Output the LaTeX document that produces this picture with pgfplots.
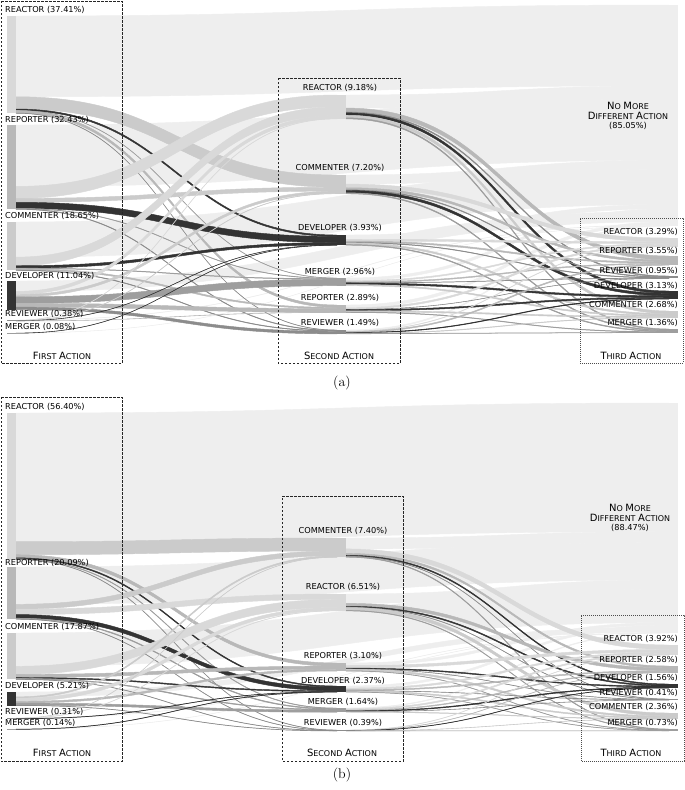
\documentclass[border=0pt]{standalone}
\usepackage{pgfplots}
\pgfplotsset{compat=1.18}
\usepackage{fontspec}
\newfontfamily\dv{DejaVu Sans}

\definecolor{cRea}{HTML}{D9D9D9}
\definecolor{cRep}{HTML}{B8B8B8}
\definecolor{cCom}{HTML}{CBCBCB}
\definecolor{cDev}{HTML}{333333}
\definecolor{cRev}{HTML}{8C8C8C}
\definecolor{cMer}{HTML}{9E9E9E}
\definecolor{cNone}{HTML}{EEEEEE}

% px per percent
\newcommand\sk{2.6}

% node: name, left x of bar, top y
\newcommand\defnode[3]{%
  \expandafter\xdef\csname nx@#1\endcsname{#2}%
  \expandafter\xdef\csname ny@#1\endcsname{#3}%
  \expandafter\xdef\csname no@#1\endcsname{0}%
  \expandafter\xdef\csname ni@#1\endcsname{0}%
}

% flow: source, target, value (%), colour  -> filled ribbon
\newcommand\flow[4]{%
  \edef\sfxa{\csname nx@#1\endcsname}\edef\sfya{\csname ny@#1\endcsname}\edef\sfoa{\csname no@#1\endcsname}%
  \edef\sfxb{\csname nx@#2\endcsname}\edef\sfyb{\csname ny@#2\endcsname}\edef\sfib{\csname ni@#2\endcsname}%
  \pgfmathsetmacro\sfw{#3*\sk}%
  \pgfmathsetmacro\sfx{\sfxa+9}%
  \pgfmathsetmacro\sfta{\sfya+\sfoa}%
  \pgfmathsetmacro\sfba{\sfya+\sfoa+\sfw}%
  \pgfmathsetmacro\sftb{\sfyb+\sfib}%
  \pgfmathsetmacro\sfbb{\sfyb+\sfib+\sfw}%
  \expandafter\xdef\csname no@#1\endcsname{\sfba-\sfya}%
  \pgfmathsetmacro\sktmp{\sfoa+\sfw}\expandafter\xdef\csname no@#1\endcsname{\sktmp}%
  \pgfmathsetmacro\sktmp{\sfib+\sfw}\expandafter\xdef\csname ni@#2\endcsname{\sktmp}%
  \pgfmathsetmacro\sfmx{(\sfx+\sfxb)/2}%
  \edef\doflow{\noexpand\addplot[fill=#4, draw=#4, line width=0.45pt]
    coordinates {(\sfx,\sfta)} .. controls (axis cs:\sfmx,\sfta) and (axis cs:\sfmx,\sftb) .. (axis cs:\sfxb,\sftb)
    -- (axis cs:\sfxb,\sfbb) .. controls (axis cs:\sfmx,\sfbb) and (axis cs:\sfmx,\sfba) .. (axis cs:\sfx,\sfba) -- cycle;}%
  \doflow}

% bar: name, value (%), colour
\newcommand\nbar[3]{%
  \edef\sbx{\csname nx@#1\endcsname}\edef\sby{\csname ny@#1\endcsname}%
  \pgfmathsetmacro\sbc{\sbx+4.5}%
  \pgfmathsetmacro\sbe{\sby+max(#2*\sk,0.8)}%
  \edef\dobar{\noexpand\addplot[draw=#3, line width=9pt] coordinates {(\sbc,\sby) (\sbc,\sbe)};}%
  \dobar}

\newcommand\lab{\dv\fontsize{8.2}{9.8}\selectfont}
\newcommand\scap[2]{{\fontsize{10}{12}\selectfont #1}{\fontsize{8}{10}\selectfont #2}}

\begin{document}
\begin{tikzpicture}
% panel (a) nodes
\defnode{aR1}{7}{16}\defnode{aP1}{7}{125}\defnode{aC1}{7}{222}
\defnode{aD1}{7}{281}\defnode{aV1}{7}{320}\defnode{aM1}{7}{333}
\defnode{aR2}{337}{95}\defnode{aC2}{337}{175}\defnode{aD2}{337}{235}
\defnode{aM2}{337}{278}\defnode{aP2}{337}{305}\defnode{aV2}{337}{330}
\defnode{aN3}{669}{5}\defnode{aR3}{669}{238}\defnode{aP3}{669}{256}
\defnode{aV3}{669}{276}\defnode{aD3}{669}{291}\defnode{aC3}{669}{311}\defnode{aM3}{669}{329}
% panel (b) nodes
\defnode{bR1}{7}{413}\defnode{bP1}{7}{567}\defnode{bC1}{7}{633}
\defnode{bD1}{7}{692}\defnode{bV1}{7}{718}\defnode{bM1}{7}{729}
\defnode{bC2}{337}{538}\defnode{bR2}{337}{594}\defnode{bP2}{337}{663}
\defnode{bD2}{337}{686}\defnode{bM2}{337}{708}\defnode{bV2}{337}{730}
\defnode{bN3}{669}{403}\defnode{bR3}{669}{645}\defnode{bP3}{669}{666}
\defnode{bD3}{669}{684}\defnode{bV3}{669}{699}\defnode{bC3}{669}{713}\defnode{bM3}{669}{729}

\begin{axis}[
    scale only axis,
    width=685pt, height=790pt,
    xmin=0, xmax=685, ymin=0, ymax=790,
    y dir=reverse,
    hide axis,
    clip=false,
]

% ---------- (a) ----------
% no more different action
\flow{aR1}{aN3}{31.07}{cNone}
\flow{aR2}{aN3}{5.03}{cNone}
\flow{aP1}{aN3}{23.62}{cNone}
\flow{aC2}{aN3}{3.5}{cNone}
\flow{aC1}{aN3}{13.52}{cNone}
\flow{aD2}{aN3}{1.63}{cNone}
\flow{aM2}{aN3}{1.01}{cNone}
\flow{aD1}{aN3}{4.0}{cNone}
\flow{aP2}{aN3}{1.09}{cNone}
\flow{aV1}{aN3}{0.10}{cNone}
\flow{aV2}{aN3}{0.43}{cNone}
\flow{aM1}{aN3}{0.03}{cNone}
% first -> second
\flow{aR1}{aC2}{4.7}{cCom}
\flow{aR1}{aD2}{0.55}{cDev}
\flow{aR1}{aM2}{0.1}{cMer}
\flow{aR1}{aP2}{0.9}{cRep}
\flow{aR1}{aV2}{0.09}{cRev}
\flow{aP1}{aR2}{4.6}{cRea}
\flow{aP1}{aC2}{1.5}{cCom}
\flow{aP1}{aD2}{2.35}{cDev}
\flow{aP1}{aM2}{0.16}{cMer}
\flow{aP1}{aV2}{0.2}{cRev}
\flow{aC1}{aR2}{3.3}{cRea}
\flow{aC1}{aD2}{0.93}{cDev}
\flow{aC1}{aM2}{0.2}{cMer}
\flow{aC1}{aP2}{0.5}{cRep}
\flow{aC1}{aV2}{0.2}{cRev}
\flow{aD1}{aR2}{1.2}{cRea}
\flow{aD1}{aC2}{0.9}{cCom}
\flow{aD1}{aM2}{2.5}{cMer}
\flow{aD1}{aP2}{1.44}{cRep}
\flow{aD1}{aV2}{1.0}{cRev}
\flow{aV1}{aR2}{0.08}{cRea}
\flow{aV1}{aC2}{0.1}{cCom}
\flow{aV1}{aD2}{0.05}{cDev}
\flow{aV1}{aP2}{0.05}{cRep}
\flow{aM1}{aD2}{0.05}{cDev}
% second -> third
\flow{aR2}{aP3}{1.5}{cRep}
\flow{aR2}{aV3}{0.35}{cRev}
\flow{aR2}{aD3}{0.9}{cDev}
\flow{aR2}{aC3}{1.0}{cCom}
\flow{aR2}{aM3}{0.4}{cMer}
\flow{aC2}{aR3}{1.4}{cRea}
\flow{aC2}{aP3}{0.8}{cRep}
\flow{aC2}{aV3}{0.25}{cRev}
\flow{aC2}{aD3}{0.9}{cDev}
\flow{aC2}{aM3}{0.35}{cMer}
\flow{aD2}{aR3}{0.7}{cRea}
\flow{aD2}{aP3}{0.5}{cRep}
\flow{aD2}{aV3}{0.2}{cRev}
\flow{aD2}{aC3}{0.6}{cCom}
\flow{aD2}{aM3}{0.3}{cMer}
\flow{aM2}{aR3}{0.45}{cRea}
\flow{aM2}{aP3}{0.35}{cRep}
\flow{aM2}{aV3}{0.1}{cRev}
\flow{aM2}{aD3}{0.6}{cDev}
\flow{aM2}{aC3}{0.45}{cCom}
\flow{aP2}{aR3}{0.6}{cRea}
\flow{aP2}{aV3}{0.05}{cRev}
\flow{aP2}{aD3}{0.5}{cDev}
\flow{aP2}{aC3}{0.45}{cCom}
\flow{aP2}{aM3}{0.2}{cMer}
\flow{aV2}{aR3}{0.14}{cRea}
\flow{aV2}{aP3}{0.4}{cRep}
\flow{aV2}{aD3}{0.23}{cDev}
\flow{aV2}{aC3}{0.18}{cCom}
\flow{aV2}{aM3}{0.11}{cMer}
% bars
\nbar{aR1}{37.41}{cRea}\nbar{aP1}{32.43}{cRep}\nbar{aC1}{18.65}{cCom}
\nbar{aD1}{11.04}{cDev}\nbar{aV1}{0.38}{cRev}\nbar{aM1}{0.08}{cMer}
\nbar{aR2}{9.18}{cRea}\nbar{aC2}{7.20}{cCom}\nbar{aD2}{3.93}{cDev}
\nbar{aM2}{2.96}{cMer}\nbar{aP2}{2.89}{cRep}\nbar{aV2}{1.49}{cRev}
\nbar{aN3}{85.05}{cNone}\nbar{aR3}{3.29}{cRea}\nbar{aP3}{3.55}{cRep}
\nbar{aV3}{0.95}{cRev}\nbar{aD3}{3.13}{cDev}\nbar{aC3}{2.68}{cCom}\nbar{aM3}{1.36}{cMer}

% ---------- (b) ----------
\flow{bR1}{bN3}{49.5}{cNone}
\flow{bC2}{bN3}{4.21}{cNone}
\flow{bP1}{bN3}{14.34}{cNone}
\flow{bR2}{bN3}{3.61}{cNone}
\flow{bC1}{bN3}{12.8}{cNone}
\flow{bP2}{bN3}{0.95}{cNone}
\flow{bD2}{bN3}{0.79}{cNone}
\flow{bD1}{bN3}{1.87}{cNone}
\flow{bM2}{bN3}{0.29}{cNone}
\flow{bV1}{bN3}{0.06}{cNone}
\flow{bM1}{bN3}{0.04}{cNone}
% first -> second
\flow{bR1}{bC2}{5.0}{cCom}
\flow{bR1}{bP2}{1.2}{cRep}
\flow{bR1}{bD2}{0.4}{cDev}
\flow{bR1}{bM2}{0.2}{cMer}
\flow{bR1}{bV2}{0.1}{cRev}
\flow{bP1}{bC2}{1.85}{cCom}
\flow{bP1}{bR2}{2.1}{cRea}
\flow{bP1}{bD2}{1.4}{cDev}
\flow{bP1}{bM2}{0.3}{cMer}
\flow{bP1}{bV2}{0.1}{cRev}
\flow{bC1}{bR2}{3.1}{cRea}
\flow{bC1}{bP2}{1.2}{cRep}
\flow{bC1}{bD2}{0.37}{cDev}
\flow{bC1}{bM2}{0.3}{cMer}
\flow{bC1}{bV2}{0.1}{cRev}
\flow{bD1}{bC2}{0.5}{cCom}
\flow{bD1}{bR2}{1.21}{cRea}
\flow{bD1}{bP2}{0.7}{cRep}
\flow{bD1}{bM2}{0.84}{cMer}
\flow{bD1}{bV2}{0.09}{cRev}
\flow{bV1}{bC2}{0.05}{cCom}
\flow{bV1}{bR2}{0.1}{cRea}
\flow{bV1}{bD2}{0.1}{cDev}
\flow{bM1}{bD2}{0.1}{cDev}
% second -> third
\flow{bC2}{bR3}{1.72}{cRea}
\flow{bC2}{bP3}{0.7}{cRep}
\flow{bC2}{bD3}{0.4}{cDev}
\flow{bC2}{bV3}{0.1}{cRev}
\flow{bC2}{bM3}{0.27}{cMer}
\flow{bR2}{bP3}{1.1}{cRep}
\flow{bR2}{bD3}{0.4}{cDev}
\flow{bR2}{bV3}{0.1}{cRev}
\flow{bR2}{bC3}{1.1}{cCom}
\flow{bR2}{bM3}{0.2}{cMer}
\flow{bP2}{bR3}{1.0}{cRea}
\flow{bP2}{bD3}{0.35}{cDev}
\flow{bP2}{bV3}{0.08}{cRev}
\flow{bP2}{bC3}{0.6}{cCom}
\flow{bP2}{bM3}{0.12}{cMer}
\flow{bD2}{bR3}{0.6}{cRea}
\flow{bD2}{bP3}{0.4}{cRep}
\flow{bD2}{bV3}{0.08}{cRev}
\flow{bD2}{bC3}{0.4}{cCom}
\flow{bD2}{bM3}{0.1}{cMer}
\flow{bM2}{bR3}{0.5}{cRea}
\flow{bM2}{bP3}{0.3}{cRep}
\flow{bM2}{bD3}{0.3}{cDev}
\flow{bM2}{bV3}{0.05}{cRev}
\flow{bM2}{bC3}{0.2}{cCom}
\flow{bV2}{bR3}{0.1}{cRea}
\flow{bV2}{bP3}{0.08}{cRep}
\flow{bV2}{bD3}{0.11}{cDev}
\flow{bV2}{bC3}{0.06}{cCom}
\flow{bV2}{bM3}{0.04}{cMer}
% bars
\nbar{bR1}{56.40}{cRea}\nbar{bP1}{20.09}{cRep}\nbar{bC1}{17.87}{cCom}
\nbar{bD1}{5.21}{cDev}\nbar{bV1}{0.31}{cRev}\nbar{bM1}{0.14}{cMer}
\nbar{bC2}{7.40}{cCom}\nbar{bR2}{6.51}{cRea}\nbar{bP2}{3.10}{cRep}
\nbar{bD2}{2.37}{cDev}\nbar{bM2}{1.64}{cMer}\nbar{bV2}{0.39}{cRev}
\nbar{bN3}{88.47}{cNone}\nbar{bR3}{3.92}{cRea}\nbar{bP3}{2.58}{cRep}
\nbar{bD3}{1.56}{cDev}\nbar{bV3}{0.41}{cRev}\nbar{bC3}{2.36}{cCom}\nbar{bM3}{0.73}{cMer}

% ---------- boxes ----------
\addplot[draw=black!85, line width=0.6pt, dash pattern=on 2.5pt off 1.5pt] coordinates {(1,1) (122,1) (122,363) (1,363) (1,1)};
\addplot[draw=black!85, line width=0.6pt, dash pattern=on 2.5pt off 1.5pt] coordinates {(278,78) (400,78) (400,363) (278,363) (278,78)};
\addplot[draw=black!70, line width=0.6pt, dash pattern=on 1pt off 1pt] coordinates {(580,218) (683,218) (683,363) (580,363) (580,218)};
\addplot[draw=black!85, line width=0.6pt, dash pattern=on 2.5pt off 1.5pt] coordinates {(1,397) (122,397) (122,761) (1,761) (1,397)};
\addplot[draw=black!85, line width=0.6pt, dash pattern=on 2.5pt off 1.5pt] coordinates {(282,496) (403,496) (403,761) (282,761) (282,496)};
\addplot[draw=black!70, line width=0.6pt, dash pattern=on 1pt off 1pt] coordinates {(581,615) (684,615) (684,761) (581,761) (581,615)};

% ---------- labels (a) ----------
\begin{scope}[every node/.style={inner sep=0pt, font=\lab, text=black}]
\node[anchor=west] at (5,10) {REACTOR (37.41\%)};
\node[anchor=west] at (5,120) {REPORTER (32.43\%)};
\node[anchor=west] at (5,216) {COMMENTER (18.65\%)};
\node[anchor=west] at (5,276) {DEVELOPER (11.04\%)};
\node[anchor=west] at (5,314) {REVIEWER (0.38\%)};
\node[anchor=west] at (5,327) {MERGER (0.08\%)};
\node at (340,88) {REACTOR (9.18\%)};
\node at (340,168) {COMMENTER (7.20\%)};
\node at (340,228) {DEVELOPER (3.93\%)};
\node at (340,272) {MERGER (2.96\%)};
\node at (340,298) {REPORTER (2.89\%)};
\node at (340,323) {REVIEWER (1.49\%)};
\node[anchor=east] at (678,232) {REACTOR (3.29\%)};
\node[anchor=east] at (678,251) {REPORTER (3.55\%)};
\node[anchor=east] at (678,271) {REVIEWER (0.95\%)};
\node[anchor=east] at (678,286) {DEVELOPER (3.13\%)};
\node[anchor=east] at (678,305) {COMMENTER (2.68\%)};
\node[anchor=east] at (678,323) {MERGER (1.36\%)};
\node at (628,106) {\scap{N}{O} \scap{M}{ORE}};
\node at (628,116) {\scap{D}{IFFERENT} \scap{A}{CTION}};
\node at (628,126) {(85.05\%)};
\node at (62,356) {\scap{F}{IRST} \scap{A}{CTION}};
\node at (339,356) {\scap{S}{ECOND} \scap{A}{CTION}};
\node at (631,356) {\scap{T}{HIRD} \scap{A}{CTION}};
% ---------- labels (b) ----------
\node[anchor=west] at (5,407) {REACTOR (56.40\%)};
\node[anchor=west] at (5,563) {REPORTER (20.09\%)};
\node[anchor=west] at (5,627) {COMMENTER (17.87\%)};
\node[anchor=west] at (5,686) {DEVELOPER (5.21\%)};
\node[anchor=west] at (5,712) {REVIEWER (0.31\%)};
\node[anchor=west] at (5,723) {MERGER (0.14\%)};
\node at (343,531) {COMMENTER (7.40\%)};
\node at (343,587) {REACTOR (6.51\%)};
\node at (343,656) {REPORTER (3.10\%)};
\node at (343,681) {DEVELOPER (2.37\%)};
\node at (343,702) {MERGER (1.64\%)};
\node at (343,723) {REVIEWER (0.39\%)};
\node[anchor=east] at (678,639) {REACTOR (3.92\%)};
\node[anchor=east] at (678,660) {REPORTER (2.58\%)};
\node[anchor=east] at (678,678) {DEVELOPER (1.56\%)};
\node[anchor=east] at (678,693) {REVIEWER (0.41\%)};
\node[anchor=east] at (678,707) {COMMENTER (2.36\%)};
\node[anchor=east] at (678,723) {MERGER (0.73\%)};
\node at (630,508) {\scap{N}{O} \scap{M}{ORE}};
\node at (630,518) {\scap{D}{IFFERENT} \scap{A}{CTION}};
\node at (630,528) {(88.47\%)};
\node at (62,753) {\scap{F}{IRST} \scap{A}{CTION}};
\node at (342,753) {\scap{S}{ECOND} \scap{A}{CTION}};
\node at (631,753) {\scap{T}{HIRD} \scap{A}{CTION}};
\end{scope}
\node[inner sep=0pt, font=\fontsize{14}{16}\selectfont] at (342,383) {(a)};
\node[inner sep=0pt, font=\fontsize{14}{16}\selectfont] at (342,775) {(b)};
\end{axis}
\pgfresetboundingbox
\path (current axis.south west) rectangle (current axis.north east);
\end{tikzpicture}
\end{document}
